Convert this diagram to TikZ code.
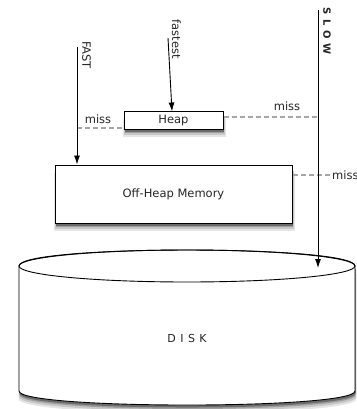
\documentclass[tikz,border=0pt]{standalone}
\usepackage{fontspec}
\setmainfont{DejaVu Sans}
\usetikzlibrary{arrows.meta}
\begin{document}
\begin{tikzpicture}[x=1pt,y=-1pt,
  lbl/.style={font=\fontsize{11.5}{13}\selectfont, text=black!85, inner sep=0pt},
  box/.style={draw=black, line width=1pt, fill=white, inner sep=0pt,
    font=\fontsize{11.5}{13}\selectfont, text=black!85},
  arr/.style={line width=0.9pt, -{Latex[length=9pt,width=6pt]}},
  missline/.style={draw=black!35, line width=1.2pt, dash pattern=on 5pt off 3pt}
]
\useasboundingbox (0,0) rectangle (356,409);

% disk cylinder shadow (soft, layered)
\fill[black!10] (18.5,274) -- (18.5,399) .. controls (18.5,417.7) and (356.5,417.7) .. (356.5,399) -- (356.5,274) -- cycle;
\fill[black!22] (19,272) -- (19,397) .. controls (19,415.7) and (356,415.7) .. (356,397) -- (356,272) -- cycle;
\fill[black!38] (19.5,270) -- (19.5,395) .. controls (19.5,413.7) and (355.5,413.7) .. (355.5,395) -- (355.5,270) -- cycle;
\fill[black!58] (19.5,268.5) -- (19.5,393.5) .. controls (19.5,412.2) and (355.5,412.2) .. (355.5,393.5) -- (355.5,268.5) -- cycle;
% disk cylinder
\path[fill=white, draw=black, line width=0.9pt]
  (19,266) -- (19,391) .. controls (19,409.7) and (355,409.7) .. (355,391)
  -- (355,266) .. controls (355,244.7) and (19,244.7) .. (19,266) -- cycle;
\draw[line width=0.9pt] (187,266) ellipse [x radius=168, y radius=16];
\node[lbl, font=\fontsize{11}{13}\selectfont] (disk) at (187,338) {D\hspace{4.5pt}I\hspace{4.5pt}S\hspace{4.5pt}K};

% box shadows (drawn first, boxes on top)
\fill[black!10] (122.5,119) rectangle (225.5,137);
\fill[black!22] (123.5,117) rectangle (224.5,135);
\fill[black!38] (124.5,115) rectangle (223.5,133);
\fill[black!58] (124.5,113.5) rectangle (223.5,131.5);
\fill[black!10] (53.5,173) rectangle (294.5,231);
\fill[black!22] (54.5,171) rectangle (293.5,229);
\fill[black!38] (55.5,169) rectangle (292.5,227);
\fill[black!58] (55.5,167.5) rectangle (292.5,225.5);

% boxes
\node[box, minimum width=99pt, minimum height=17pt] (heap) at (173.5,120.5) {Heap};
\node[box, minimum width=237pt, minimum height=58pt] (offheap) at (173.5,194) {Off-Heap Memory};

\coordinate (fastTop) at (77,47);
\coordinate (fastestTop) at (168,38);
\coordinate (slowTop) at (318,10);
\coordinate (slowEnd) at (318,268);
\coordinate (missLeft) at (77,128);
\coordinate (missRight) at (318,117);
\coordinate (missOff) at (330,175);

\draw[missline] (missLeft) -- (missLeft -| heap.west);
\draw[missline] (missRight -| heap.east) -- (missRight);
\draw[missline] (missOff -| offheap.east) -- (missOff);

\draw[arr] (fastTop) -- (fastTop |- offheap.north);
\draw[arr] (fastestTop) -- ([xshift=-1.5pt]heap.north);
\draw[arr] (slowTop) -- (slowEnd);

\node[lbl, rotate=-90] (fastlbl) at (86.5,55) {FAST};
\node[lbl, rotate=-90] (fastestlbl) at (176.5,39) {fastest};
\node[lbl, rotate=-90, font=\bfseries\fontsize{10}{12}\selectfont] (slowlbl) at (327,31) {S\hspace{4.5pt}L\hspace{4.5pt}O\hspace{4.5pt}W};
\node[lbl] (missA) at (98,119) {miss};
\node[lbl] (missB) at (287,106) {miss};
\node[lbl, anchor=west] (missC) at (332,175) {miss};
\end{tikzpicture}
\end{document}
